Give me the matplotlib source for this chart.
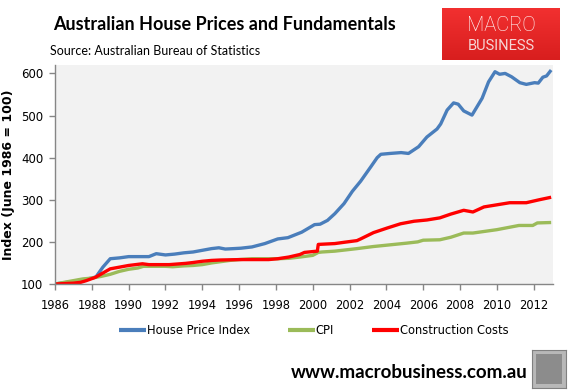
import matplotlib
matplotlib.use("Agg")
import matplotlib.pyplot as plt
import numpy as np
from matplotlib.patches import Rectangle
from matplotlib.colors import LinearSegmentedColormap

# ---- data ----
hpi_years = [1986.0, 1986.5, 1987.0, 1987.5, 1988.0, 1988.23, 1988.6, 1989.0, 1989.5, 1990.0,
             1990.5, 1991.1, 1991.5, 1992.0, 1992.5, 1993.0, 1993.5, 1994.0, 1994.5, 1994.9,
             1995.25, 1995.7, 1996.1, 1996.7, 1997.4, 1998.1, 1998.65, 1999.4, 2000.1, 2000.4,
             2000.8, 2001.2, 2001.7, 2002.15, 2002.6, 2003.15, 2003.5, 2003.7, 2004.2, 2004.8,
             2005.2, 2005.75, 2006.2, 2006.75, 2006.95, 2007.3, 2007.65, 2007.9, 2008.2, 2008.65,
             2009.2, 2009.55, 2009.9, 2010.15, 2010.45, 2010.8, 2011.25, 2011.6, 2012.05, 2012.25,
             2012.5, 2012.7, 2012.95]
hpi_values = [100, 103, 106, 110, 114, 117, 140, 160, 162, 165,
              165, 165, 172, 169, 171, 174, 176, 180, 184, 186,
              183, 184, 185, 188, 196, 207, 210, 223, 241, 242,
              251, 267, 291, 320, 344, 378, 400, 408, 410, 412,
              410, 426, 449, 468, 480, 513, 530, 527, 511, 501,
              541, 580, 604, 598, 600, 592, 578, 574, 578, 577,
              591, 594, 608]

cpi_years = [1986.0, 1986.5, 1987.0, 1987.5, 1988.0, 1988.5, 1989.0, 1989.5, 1990.0, 1990.5,
             1990.8, 1991.5, 1992.0, 1992.4, 1993.0, 1993.5, 1994.0, 1994.5, 1995.0, 1995.5,
             1996.0, 1996.7, 1997.5, 1998.1, 1998.7, 1999.3, 2000.0, 2000.3, 2000.5, 2001.2,
             2001.8, 2002.4, 2003.3, 2004.2, 2005.1, 2005.7, 2006.0, 2006.9, 2007.5, 2008.2,
             2008.7, 2010.0, 2011.2, 2011.95, 2012.2, 2012.95]
cpi_values = [100, 104, 108, 112, 114, 118, 123, 130, 135, 138,
              142, 142, 142, 141, 143, 144, 146, 150, 153, 156,
              158, 160, 160, 160, 161, 164, 168, 175, 176, 178,
              181, 184, 189, 193, 197, 200, 204, 205, 211, 221,
              221, 229, 239, 239, 245, 246]

cc_years = [1986.0, 1986.5, 1987.0, 1987.4, 1987.7, 1988.2, 1988.6, 1989.0, 1989.5, 1990.0,
            1990.75, 1991.1, 1992.2, 1993.1, 1993.5, 1994.0, 1994.5, 1995.0, 1996.1, 1997.6,
            1998.1, 1998.7, 1999.3, 1999.55, 2000.0, 2000.25, 2000.3, 2001.2, 2001.7, 2002.4,
            2002.6, 2003.3, 2004.05, 2004.77, 2005.5, 2006.2, 2006.9, 2007.5, 2008.2, 2008.7,
            2009.3, 2010.0, 2010.7, 2011.6, 2012.3, 2012.95]
cc_values = [100, 101, 102, 104, 108, 116, 126, 136, 140, 144,
             148, 146, 146, 149, 151, 154, 156, 157, 158, 158,
             160, 164, 170, 175, 177, 178, 194, 196, 199, 203,
             207, 222, 233, 243, 249, 252, 257, 266, 275, 271,
             283, 288, 293, 293, 300, 306]

series_names = ["House Price Index", "CPI", "Construction Costs"]
series_colors = ["#4A7EBB", "#9BBB59", "#FF0000"]
year_ticks = list(range(1986, 2013, 2))
y_ticks = [100, 200, 300, 400, 500, 600]

title = "Australian House Prices and Fundamentals"
subtitle = "Source: Australian Bureau of Statistics"
ylabel = "Index (June 1986 = 100)"
footer = "www.macrobusiness.com.au"

# ---- figure ----
W, H = 574, 390
fig = plt.figure(figsize=(W / 100, H / 100), dpi=100)
fig.patch.set_facecolor("white")

def fx(px):
    return px / W

def fy(py):
    return 1 - py / H

AX_L, AX_R = 55, 553
ax = fig.add_axes([fx(AX_L), fy(284), fx(AX_R) - fx(AX_L), fy(65) - fy(284)])
ax.set_facecolor("#F2F2F2")

for xs, ys, c, n in zip([hpi_years, cpi_years, cc_years],
                        [hpi_values, cpi_values, cc_values],
                        series_colors, series_names):
    ax.plot(xs, ys, color=c, lw=2.4, label=n, solid_joinstyle="round",
            solid_capstyle="butt")

ax.set_xlim(1986, 2013.05)
ax.set_ylim(100, 620)
ax.set_xticks(year_ticks)
ax.set_xticklabels([str(y) for y in year_ticks], fontsize=8.3, family="DejaVu Sans")
ax.set_yticks(y_ticks)
ax.set_yticklabels([str(v) for v in y_ticks], fontsize=8.5, family="DejaVu Sans")
for s in ["top", "right"]:
    ax.spines[s].set_visible(False)
for s in ["left", "bottom"]:
    ax.spines[s].set_color("#868686")
    ax.spines[s].set_linewidth(1.0)
ax.tick_params(axis="both", direction="out", length=4.5, color="#868686", width=1.0,
               labelcolor="black")
ax.tick_params(axis="x", pad=6)
ax.tick_params(axis="y", pad=4)
ax.set_ylabel(ylabel, fontsize=9, fontweight="bold", family="DejaVu Sans")
ax.yaxis.set_label_coords((15 - AX_L) / (AX_R - AX_L), 0.5)

# titles
fig.text(fx(53), fy(24), title, fontsize=13.0, fontweight="bold", family="Lato",
         ha="left", va="center")
fig.text(fx(50), fy(51), subtitle, fontsize=9.0, family="Lato", ha="left", va="center")

# legend
leg = fig.legend(loc="center", bbox_to_anchor=(fx(314), fy(331)), ncol=3, frameon=False,
                 prop={"family": "DejaVu Sans", "size": 8.3}, handlelength=2.3,
                 handletextpad=0.1, columnspacing=3.3)
for line in leg.get_lines():
    line.set_linewidth(3.0)

# logo box
lax = fig.add_axes([fx(442), fy(60), fx(560) - fx(442), fy(8) - fy(60)])
grad = np.linspace(0, 1, 64).reshape(-1, 1)
cmap = LinearSegmentedColormap.from_list("r", ["#F23030", "#D81E1E"])
lax.imshow(grad, aspect="auto", cmap=cmap, extent=[0, 1, 0, 1])
lax.set_axis_off()
lax.text(0.5, 0.66, "MACRO", color="white", fontsize=14.5, family="Roboto",
         fontweight="light", ha="center", va="center", transform=lax.transAxes)
lax.text(0.5, 0.27, "BUSINESS", color="#F6D6D6", fontsize=10.5, family="Roboto",
         ha="center", va="center", transform=lax.transAxes)

# footer
fig.text(fx(528), fy(372), footer, fontsize=13.5, fontweight="bold", family="Lato",
         ha="right", va="center")
wax = fig.add_axes([fx(532), fy(388), fx(566) - fx(532), fy(350) - fy(388)])
wax.set_facecolor("#B8B8B8")
wax.set_xticks([])
wax.set_yticks([])
for s in wax.spines.values():
    s.set_color("#808080")
wax.add_patch(Rectangle((0.12, 0.1), 0.76, 0.8, transform=wax.transAxes,
                        facecolor="#8C8C8C", edgecolor="none"))

fig.savefig("out.png", dpi=100, facecolor="white")
